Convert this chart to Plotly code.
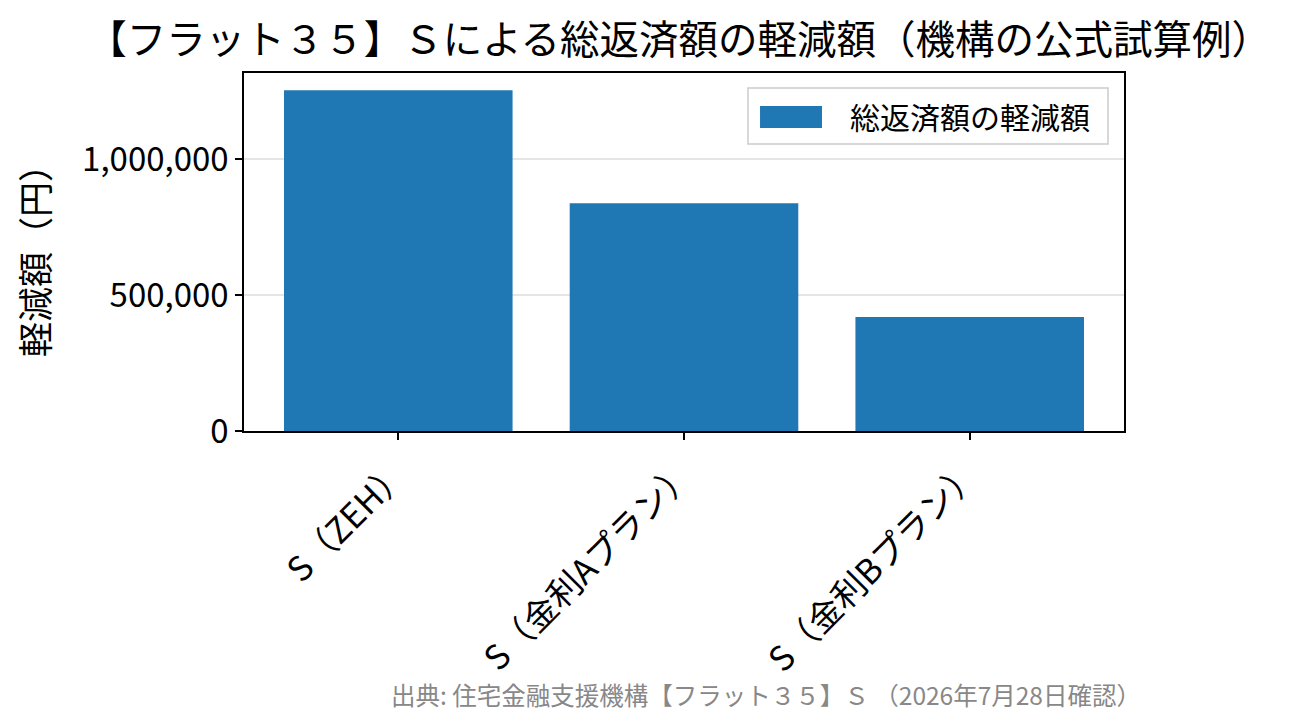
import plotly.graph_objects as go

plans = ["S（ZEH）", "S（金利Aプラン）", "S（金利Bプラン）"]
reduction_yen = [1254000, 838000, 419000]
y_ticks = [0, 500000, 1000000]
series_name = "総返済額の軽減額"

FONT = "Noto Sans CJK JP"
BLUE = "#1f77b4"

fig = go.Figure()
fig.add_trace(go.Bar(
    x=plans, y=reduction_yen, name=series_name, showlegend=False,
    marker=dict(color=BLUE, line=dict(width=0)), width=0.8,
))

# the page body has an 8px margin, so margins are shifted by 8px
fig.update_layout(
    width=1299, height=725,
    margin=dict(l=236, r=183, t=65, b=302),
    paper_bgcolor="white", plot_bgcolor="white",
    font=dict(family=FONT, color="black", size=30),
    title=dict(text="【フラット３５】Ｓによる総返済額の軽減額（機構の公式試算例）",
               x=0.5166, xanchor="center", y=0.956, yanchor="middle",
               font=dict(size=39.5, family=FONT)),
    showlegend=False,
)

fig.update_xaxes(
    range=[-0.54, 2.54], tickangle=-45,
    showline=True, linecolor="black", linewidth=1.5, mirror=True,
    ticks="outside", ticklen=7, tickwidth=1.5, tickcolor="black",
    showgrid=False, tickfont=dict(size=34),
)
fig.update_yaxes(
    range=[0, 1317000], tickvals=y_ticks, tickformat=",d",
    showline=True, linecolor="black", linewidth=1.5, mirror=True,
    ticks="outside", ticklen=7, tickwidth=1.5, tickcolor="black",
    showgrid=True, gridcolor="#e5e5e5", gridwidth=1.5, zeroline=False,
    title=dict(text="軽減額（円）", standoff=22, font=dict(size=35)),
    tickfont=dict(size=33),
)

# matplotlib-style legend box: wide colour patch plus label
fig.add_shape(type="rect", xref="paper", yref="paper",
              x0=0.5727, x1=0.9818, y0=0.8017, y1=0.958,
              line=dict(color="#cccccc", width=1.5),
              fillcolor="rgba(255,255,255,0.8)", layer="above")
fig.add_shape(type="rect", xref="paper", yref="paper",
              x0=0.5864, x1=0.6568, y0=0.8464, y1=0.9078,
              line=dict(width=0), fillcolor=BLUE, layer="above")
fig.add_annotation(
    text=series_name, xref="paper", yref="paper", x=0.6864, y=0.8799,
    xanchor="left", yanchor="middle", showarrow=False,
    font=dict(size=30, color="black", family=FONT),
)

fig.add_annotation(
    text="出典: 住宅金融支援機構【フラット３５】Ｓ （2026年7月28日確認）",
    xref="paper", yref="paper", x=0.593, y=-0.737,
    xanchor="center", yanchor="middle", showarrow=False,
    font=dict(size=24.5, color="#888888", family=FONT),
)

fig.write_html("out.html")
